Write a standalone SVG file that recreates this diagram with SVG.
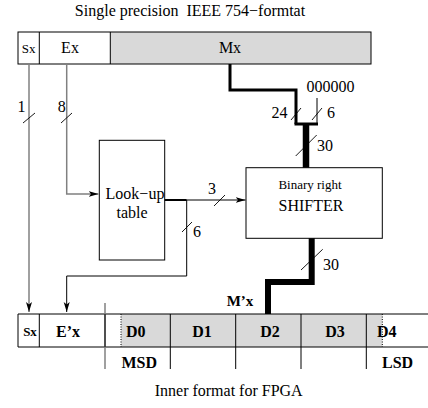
<svg xmlns="http://www.w3.org/2000/svg" width="428" height="408" viewBox="0 0 428 408">
<defs>
<style>
text{font-family:"Liberation Serif","Times New Roman",serif;fill:#000;font-size:16px}
.s13{font-size:13px}
.s15{font-size:15px}
.m{text-anchor:middle}
.e{text-anchor:end}
.b{font-weight:bold}
.box{fill:#fff;stroke:#000;stroke-width:1}
.cell{fill:none;stroke:#000;stroke-width:1}
.gray{fill:#d9d9d9;stroke:none}
.gl{stroke:#808080;stroke-width:1.5;fill:none}
.thin{stroke:#000;stroke-width:1;fill:none}
.bus{stroke:#000;fill:none;stroke-linejoin:miter;stroke-linecap:butt}
.tick{stroke:#000;stroke-width:0.9}
.dot{stroke:#000;stroke-width:1;stroke-dasharray:1 1.5}
</style>
<marker id="arr" markerUnits="userSpaceOnUse" markerWidth="12" markerHeight="8" refX="10" refY="4" orient="auto">
<path d="M0,1 L10,4 L0,7 L2.5,4 Z" fill="#000"/>
</marker>
</defs>
<rect width="428" height="408" fill="#fff"/>
<text id="title" x="190" y="15.5" class="m" xml:space="preserve">Single precision  IEEE 754−formtat</text>

<g id="ieee-format">
<rect x="110.3" y="32" width="260.7" height="32" class="gray"/>
<rect x="18" y="32" width="353" height="32" class="cell"/>
<line x1="39.3" y1="32" x2="39.3" y2="64" class="cell"/>
<line x1="110.3" y1="32" x2="110.3" y2="64" class="cell"/>
<text x="28.7" y="53" class="m s13">Sx</text>
<text x="70" y="53.3" class="m">Ex</text>
<text x="230" y="53.3" class="m">Mx</text>
</g>

<g id="lookup">
<rect x="99.3" y="140.3" width="65.4" height="119.7" class="box"/>
<text x="135" y="199" class="m">Look−up</text>
<text x="132" y="218" class="m">table</text>
</g>

<g id="shifter">
<rect x="246" y="167.7" width="136.3" height="70.6" class="box"/>
<text x="310" y="188.5" class="m s13">Binary right</text>
<text x="311" y="211" class="m">SHIFTER</text>
</g>

<g id="inner-format">
<rect x="121" y="314" width="261.3" height="33" class="gray"/>
<line x1="18" y1="314" x2="428" y2="314" class="cell"/>
<line x1="18" y1="347" x2="428" y2="347" class="cell"/>
<line x1="18" y1="314" x2="18" y2="347" class="cell"/>
<line x1="39.3" y1="314" x2="39.3" y2="347" class="cell"/>
<line x1="105" y1="303" x2="105" y2="369" class="gl"/>
<line x1="105" y1="314" x2="105" y2="347" class="cell"/>
<line x1="121" y1="314" x2="121" y2="347" class="dot"/>
<line x1="382.3" y1="314" x2="382.3" y2="347" class="dot"/>
<line x1="170.3" y1="314" x2="170.3" y2="369" class="cell"/>
<line x1="235.7" y1="314" x2="235.7" y2="369" class="cell"/>
<line x1="301" y1="314" x2="301" y2="369" class="cell"/>
<line x1="366.3" y1="314" x2="366.3" y2="369" class="cell"/>
<text x="30" y="336" class="m b s13">Sx</text>
<text x="68" y="336.5" class="m b">E’x</text>
<text x="126" y="336.5" class="b">D0</text>
<text x="202" y="336.5" class="m b">D1</text>
<text x="270" y="336.5" class="m b">D2</text>
<text x="335" y="336.5" class="m b">D3</text>
<text x="377" y="336.5" class="b">D4</text>
<text x="121.5" y="368" class="b">MSD</text>
<text x="382" y="368" class="b">LSD</text>
<text x="240" y="306" class="m b s15">M’x</text>
</g>

<g id="connectors">
<path d="M29,64 V312" class="gl" marker-end="url(#arr)"/>
<path d="M66.7,64 V194 H98.5" class="gl" marker-end="url(#arr)"/>
<path d="M230,64 V90 H296 V124" class="bus" stroke-width="3"/>
<path d="M317,98 V124" class="thin"/>
<path d="M294.5,124 H318" class="bus" stroke-width="3"/>
<path d="M306,124 V167.7" class="bus" stroke-width="6.5"/>
<path d="M164.7,200 H186.7" class="bus" stroke-width="2"/>
<path d="M186.7,200 H245.5" class="thin" marker-end="url(#arr)"/>
<path d="M186.7,200 V276 H66.7 V312" class="thin" marker-end="url(#arr)"/>
<path d="M311.7,238.3 V282 H268 V314" class="bus" stroke-width="6"/>
<line x1="23" y1="123" x2="35" y2="113" class="tick"/>
<line x1="61" y1="123" x2="72" y2="113" class="tick"/>
<line x1="291" y1="120" x2="301" y2="108" class="tick"/>
<line x1="312" y1="120" x2="322" y2="108" class="tick"/>
<line x1="295.7" y1="156" x2="316.7" y2="135" class="tick"/>
<line x1="214" y1="206" x2="225" y2="195" class="tick"/>
<line x1="182" y1="232" x2="192" y2="222" class="tick"/>
<line x1="301" y1="270" x2="322.7" y2="249.3" class="tick"/>
<text x="21.5" y="112" class="m">1</text>
<text x="61.7" y="112" class="m">8</text>
<text x="287.5" y="118" class="e">24</text>
<text x="327" y="118">6</text>
<text x="330.5" y="92" class="m">000000</text>
<text x="317" y="150.5">30</text>
<text x="212" y="194" class="m">3</text>
<text x="193" y="237">6</text>
<text x="323" y="270">30</text>
</g>

<text id="caption" x="228.7" y="396" class="m">Inner format for FPGA</text>
</svg>
